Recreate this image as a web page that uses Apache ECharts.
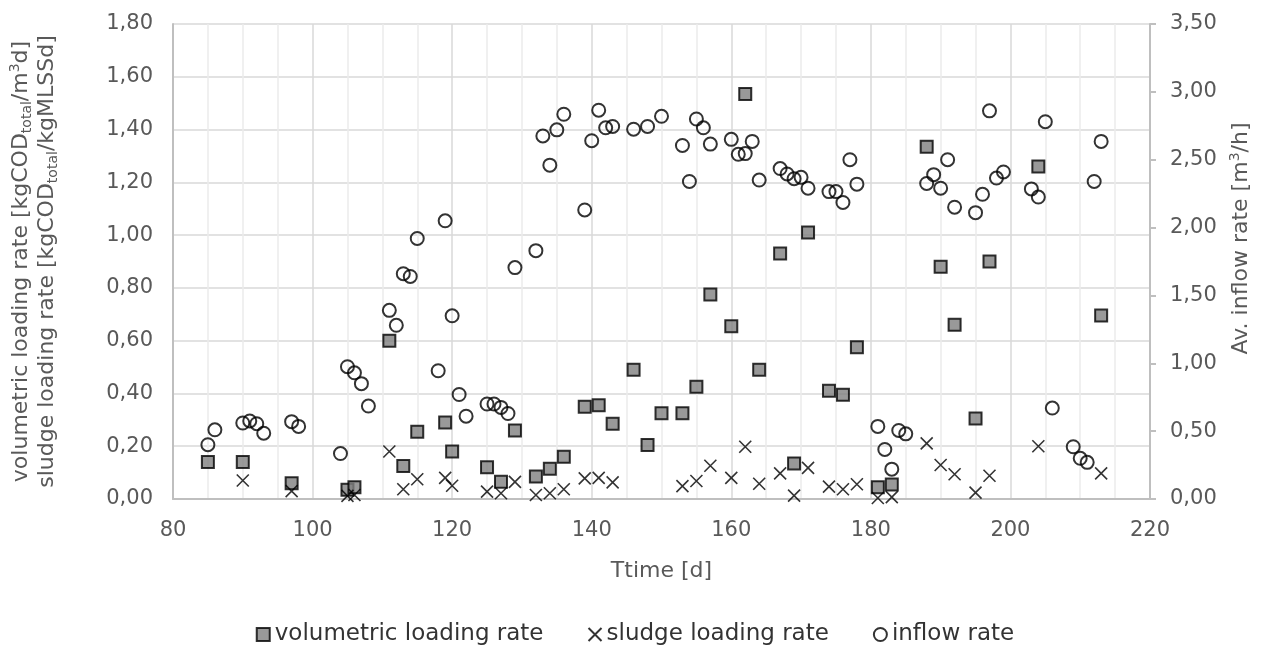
<!DOCTYPE html>
<html>
<head>
<meta charset="utf-8">
<script src="https://cdn.jsdelivr.net/npm/echarts@6/dist/echarts.min.js"></script>
<style>
html,body{margin:0;padding:0;background:#fff;}
#chart{width:1270px;height:664px;}
</style>
</head>
<body>
<div id="chart"></div>
<script>
// ---- data ----
const volDays = [85,90,97,105,106,111,113,115,119,120,125,127,129,132,134,136,139,141,143,146,148,150,153,155,157,160,162,164,167,169,171,174,176,178,181,183,188,190,192,195,197,204,213];
const volValues = [0.14,0.14,0.06,0.035,0.045,0.60,0.125,0.255,0.29,0.18,0.12,0.065,0.26,0.085,0.115,0.16,0.35,0.355,0.285,0.49,0.205,0.325,0.325,0.425,0.775,0.655,1.535,0.49,0.93,0.135,1.01,0.41,0.395,0.575,0.045,0.055,1.335,0.88,0.66,0.305,0.90,1.26,0.695];

const sludgeDays = [90,97,105,106,111,113,115,119,120,125,127,129,132,134,136,139,141,143,153,155,157,160,162,164,167,169,171,174,176,178,181,183,188,190,192,195,197,204,213];
const sludgeValues = [0.07,0.03,0.012,0.015,0.18,0.037,0.075,0.08,0.05,0.028,0.022,0.065,0.015,0.022,0.037,0.078,0.08,0.063,0.049,0.068,0.126,0.08,0.198,0.058,0.097,0.013,0.118,0.047,0.037,0.056,0.004,0.007,0.211,0.129,0.094,0.024,0.088,0.20,0.097];

const inflowDays = [85,86,90,91,92,93,97,98,104,105,106,107,108,111,112,113,114,115,118,119,120,121,122,125,126,127,128,129,132,133,134,135,136,139,140,141,142,143,146,148,150,153,154,155,156,157,160,161,162,163,164,167,168,169,170,171,174,175,176,177,178,181,182,183,184,185,188,189,190,191,192,195,196,197,198,199,203,204,205,206,209,210,211,212,213];
const inflowValues = [0.40,0.51,0.56,0.575,0.555,0.485,0.57,0.535,0.335,0.975,0.93,0.85,0.685,1.39,1.28,1.66,1.64,1.92,0.945,2.05,1.35,0.77,0.61,0.70,0.70,0.675,0.63,1.705,1.83,2.675,2.46,2.72,2.835,2.13,2.64,2.865,2.735,2.745,2.725,2.745,2.82,2.605,2.34,2.80,2.735,2.615,2.65,2.54,2.545,2.635,2.35,2.435,2.395,2.36,2.37,2.29,2.265,2.265,2.185,2.50,2.32,0.535,0.365,0.22,0.505,0.48,2.325,2.39,2.29,2.50,2.15,2.11,2.245,2.86,2.365,2.41,2.285,2.225,2.78,0.67,0.385,0.30,0.27,2.34,2.635];

const seriesNames = ['volumetric loading rate','sludge loading rate','inflow rate'];
const xAxisTitle = 'Ttime [d]';

function pairs(xs, ys){ return xs.map((x,i)=>[x, ys[i]]); }
function comma(v, d){ return v.toFixed(d).replace('.', ','); }

const FONT = 'DejaVu Sans';
const GREY = '#595959';
const crossPath = 'path://M0,0 L10,10 M10,0 L0,10';

const chart = echarts.init(document.getElementById('chart'), null, {renderer:'canvas'});
chart.setOption({
  animation:false,
  backgroundColor:'#ffffff',
  grid:{left:173, right:120, top:24, bottom:165, containLabel:false},
  legend:{
    data:seriesNames,
    left:'center', top:618,
    itemGap:44, itemWidth:13, itemHeight:13,
    textStyle:{fontFamily:FONT, fontSize:23, color:'#333333'}
  },
  xAxis:{
    type:'value', min:80, max:220, interval:20,
    name:xAxisTitle, nameLocation:'middle', nameGap:61,
    nameTextStyle:{fontFamily:FONT, fontSize:22, color:GREY},
    axisLine:{show:true, lineStyle:{color:'#bfbfbf', width:2}},
    axisTick:{show:false},
    axisLabel:{fontFamily:FONT, fontSize:21, color:GREY, margin:21},
    splitLine:{show:true, lineStyle:{color:'#d9d9d9', width:1.5}},
    minorTick:{show:false, splitNumber:4},
    minorSplitLine:{show:true, lineStyle:{color:'#ececec', width:1.5}}
  },
  yAxis:[
    {
      type:'value', min:0, max:1.8, interval:0.2,
      name:'{t|volumetric loading rate [kgCOD}{sub|total}{t|/m}{sup|3}{t|d]}\n{t|sludge loading rate [kgCOD}{sub|total}{t|/kgMLSSd]}',
      nameLocation:'middle', nameRotate:90, nameGap:113,
      nameTextStyle:{
        fontFamily:FONT, fontSize:22, color:GREY, align:'center',
        rich:{
          t:{fontFamily:FONT, fontSize:22, color:GREY, lineHeight:26},
          sub:{fontFamily:FONT, fontSize:14, color:GREY, lineHeight:15, verticalAlign:'bottom'},
          sup:{fontFamily:FONT, fontSize:14, color:GREY, lineHeight:15, verticalAlign:'top'}
        }
      },
      axisLine:{show:true, lineStyle:{color:'#bfbfbf', width:2}},
      axisTick:{show:false},
      axisLabel:{fontFamily:FONT, fontSize:21, color:GREY, margin:20, formatter:v=>comma(v,2)},
      splitLine:{show:true, lineStyle:{color:'#d9d9d9', width:1.5}}
    },
    {
      type:'value', min:0, max:3.5, interval:0.5, position:'right',
      name:'{t|Av. inflow rate [m}{sup|3}{t|/h]}',
      nameLocation:'middle', nameRotate:90, nameGap:78,
      nameTextStyle:{
        fontFamily:FONT, fontSize:22, color:GREY, padding:[0,0,0,46],
        rich:{
          t:{fontFamily:FONT, fontSize:22, color:GREY, lineHeight:26},
          sup:{fontFamily:FONT, fontSize:14, color:GREY, lineHeight:15, verticalAlign:'top'}
        }
      },
      axisLine:{show:true, lineStyle:{color:'#bfbfbf', width:2}},
      axisTick:{show:true, inside:false, length:6, lineStyle:{color:'#bfbfbf', width:2}},
      axisLabel:{fontFamily:FONT, fontSize:21, color:GREY, margin:20, formatter:v=>comma(v,2)},
      splitLine:{show:false}
    }
  ],
  series:[
    {
      name:seriesNames[0], type:'scatter', yAxisIndex:0,
      symbol:'rect', symbolSize:12,
      itemStyle:{color:'#808080', borderColor:'#000000', borderWidth:2},
      data:pairs(volDays, volValues), z:3
    },
    {
      name:seriesNames[1], type:'scatter', yAxisIndex:0,
      symbol:crossPath, symbolSize:12,
      itemStyle:{color:'rgba(0,0,0,0)', borderColor:'#000000', borderWidth:1.6},
      data:pairs(sludgeDays, sludgeValues), z:4
    },
    {
      name:seriesNames[2], type:'scatter', yAxisIndex:1,
      symbol:'circle', symbolSize:13,
      itemStyle:{color:'rgba(255,255,255,0)', borderColor:'#000000', borderWidth:2},
      data:pairs(inflowDays, inflowValues), z:5
    }
  ]
});
</script>
</body>
</html>
